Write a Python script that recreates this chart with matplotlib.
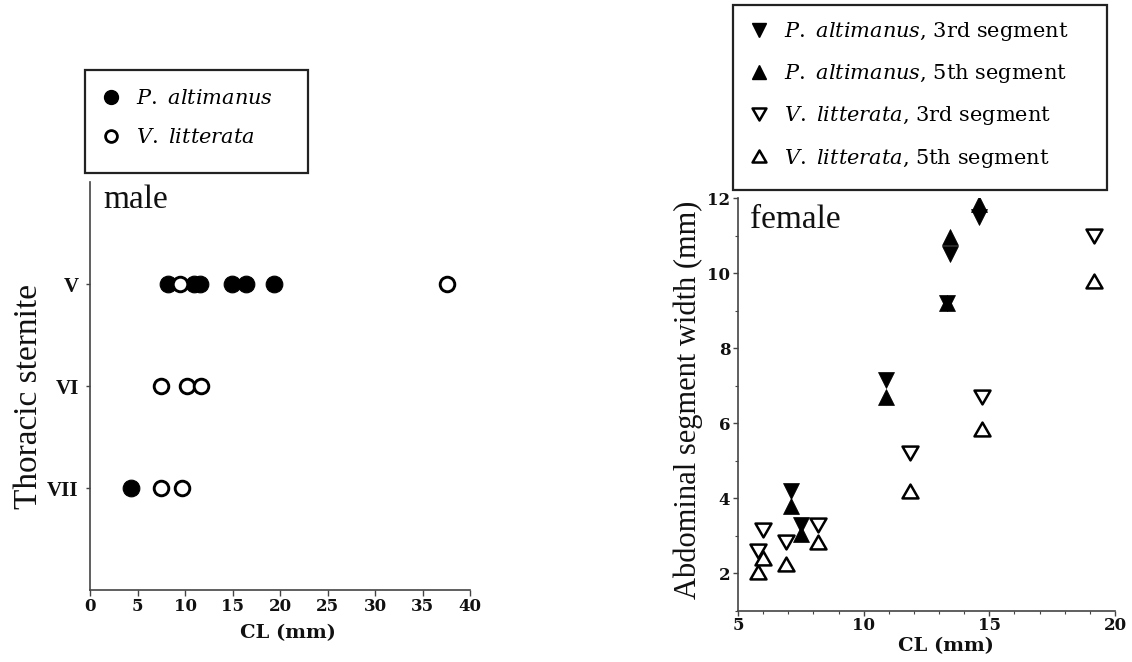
import matplotlib
matplotlib.use('Agg')
import matplotlib.pyplot as plt
from matplotlib.lines import Line2D
from matplotlib.patches import Rectangle
from matplotlib.ticker import MultipleLocator
from matplotlib.path import Path

plt.rcParams['mathtext.fontset'] = 'custom'
plt.rcParams['mathtext.it'] = 'DejaVu Serif:italic'
plt.rcParams['mathtext.rm'] = 'DejaVu Serif'

# ---------------- data ----------------
sternites = ['VII', 'VI', 'V']

male_pa_sternite = ['V', 'V', 'V', 'V', 'V', 'V', 'VII']
male_pa_cl = [8.2, 10.9, 11.6, 14.9, 16.4, 19.4, 4.3]
male_vl_sternite = ['V', 'V', 'VI', 'VI', 'VI', 'VII', 'VII']
male_vl_cl = [9.5, 37.6, 7.5, 10.2, 11.7, 7.5, 9.7]

female_pa_cl = [7.1, 7.5, 10.9, 13.3, 13.45, 14.6]
female_pa_3rd = [4.2, 3.3, 7.15, 9.2, 10.5, 11.5]
female_pa_5th = [3.8, 3.05, 6.7, 9.2, 10.95, 11.85]

female_vl_cl = [5.8, 6.0, 6.9, 8.2, 11.85, 14.7, 19.15]
female_vl_3rd = [2.6, 3.15, 2.85, 3.3, 5.2, 6.7, 11.0]
female_vl_5th = [2.05, 2.4, 2.25, 2.85, 4.2, 5.85, 9.8]

W, H = 1132, 662
fig = plt.figure(figsize=(W / 100, H / 100), dpi=100)

SERIF_NUM = 'DejaVu Serif'
TIMES = 'Liberation Serif'
spine_col = '#444444'
txt_col = '#111111'

# ---------------- left panel (male) ----------------
ax1 = fig.add_axes([90 / W, (H - 590) / H, 380 / W, 408 / H])
pos = {s: i + 1 for i, s in enumerate(sternites)}
ax1.plot(male_pa_cl, [pos[s] for s in male_pa_sternite], 'o', ls='none',
         ms=12, mfc='black', mec='black', mew=0.8, zorder=3)
ax1.plot(male_vl_cl, [pos[s] for s in male_vl_sternite], 'o', ls='none',
         ms=10.5, mfc='white', mec='black', mew=2.1, zorder=4)
ax1.set_xlim(0, 40)
ax1.set_ylim(0, 4)
ax1.set_xticks(range(0, 41, 5))
ax1.set_yticks([pos[s] for s in sternites])
ax1.set_yticklabels(sternites)
for sp in ['top', 'right']:
    ax1.spines[sp].set_visible(False)
for sp in ['left', 'bottom']:
    ax1.spines[sp].set_color(spine_col)
    ax1.spines[sp].set_linewidth(1.2)
ax1.tick_params(axis='x', direction='out', length=4, width=1, colors=spine_col, pad=2)
ax1.tick_params(axis='y', direction='out', length=3, width=1, colors=spine_col, pad=5)
for t in ax1.get_xticklabels():
    t.set_fontfamily(SERIF_NUM); t.set_fontweight('bold'); t.set_fontsize(12); t.set_color(txt_col)
for t in ax1.get_yticklabels():
    t.set_fontfamily(TIMES); t.set_fontweight('bold'); t.set_fontsize(15); t.set_color(txt_col)
ax1.set_xlabel('CL (mm)', fontfamily=SERIF_NUM, fontweight='bold', fontsize=14, color=txt_col)
ax1.xaxis.set_label_coords(0.52, -0.083)
ax1.xaxis.label.set_va('top')
ax1.set_ylabel('Thoracic sternite', fontfamily=TIMES, fontsize=24, color=txt_col)
ax1.yaxis.set_label_coords(-0.121, 0.475)
ax1.text(0.034, 0.995, 'male', transform=ax1.transAxes, ha='left', va='top',
         fontfamily=TIMES, fontsize=24, color=txt_col)

# ---------------- right panel (female) ----------------
ax2 = fig.add_axes([738 / W, (H - 611) / H, 377 / W, 413 / H])
tri_up = Path([(0, 0.866), (-1, -0.866), (1, -0.866), (0, 0.866)], closed=True)
tri_dn = Path([(0, -0.866), (-1, 0.866), (1, 0.866), (0, -0.866)], closed=True)
ax2.plot(female_pa_cl, female_pa_3rd, 'v', ls='none', ms=12,
         mfc='black', mec='black', mew=0.5, zorder=3)
ax2.plot(female_pa_cl, female_pa_5th, '^', ls='none', ms=12,
         mfc='black', mec='black', mew=0.5, zorder=3)
ax2.plot(female_vl_cl, female_vl_3rd, marker=tri_dn, ls='none', ms=11.5,
         mfc='white', mec='black', mew=1.8, zorder=4)
ax2.plot(female_vl_cl, female_vl_5th, marker=tri_up, ls='none', ms=11.5,
         mfc='white', mec='black', mew=1.8, zorder=4)
ax2.set_xlim(5, 20)
ax2.set_ylim(1, 12)
ax2.xaxis.set_major_locator(MultipleLocator(5))
ax2.xaxis.set_minor_locator(MultipleLocator(1))
ax2.yaxis.set_minor_locator(MultipleLocator(1))
ax2.set_yticks(range(2, 13, 2))
for sp in ['top', 'right']:
    ax2.spines[sp].set_visible(False)
for sp in ['left', 'bottom']:
    ax2.spines[sp].set_color(spine_col)
    ax2.spines[sp].set_linewidth(1.2)
ax2.tick_params(axis='both', which='major', direction='out', length=3.5, width=1, colors=spine_col)
ax2.tick_params(axis='both', which='minor', direction='out', length=2.5, width=0.8, colors=spine_col)
ax2.tick_params(axis='x', which='major', pad=1)
ax2.tick_params(axis='y', which='major', pad=2)
for t in ax2.get_xticklabels() + ax2.get_yticklabels():
    t.set_fontfamily(SERIF_NUM); t.set_fontweight('bold'); t.set_fontsize(12); t.set_color(txt_col)
ax2.set_xlabel('CL (mm)', fontfamily=SERIF_NUM, fontweight='bold', fontsize=14, color=txt_col)
ax2.xaxis.set_label_coords(0.552, -0.064)
ax2.xaxis.label.set_va('top')
ax2.set_ylabel('Abdominal segment width (mm)', fontfamily=TIMES, fontsize=22, color=txt_col)
ax2.yaxis.set_label_coords(-0.093, 0.511)
ax2.text(0.032, 0.985, 'female', transform=ax2.transAxes, ha='left', va='top',
         fontfamily=TIMES, fontsize=24, color=txt_col)

# ---------------- legends ----------------
fig.add_artist(Rectangle((85 / W, (H - 173) / H), 223 / W, 103 / H, transform=fig.transFigure,
                         fill=False, edgecolor='#222222', lw=1.6))
fig.add_artist(Rectangle((733 / W, (H - 190) / H), 374 / W, 185 / H, transform=fig.transFigure,
                         fill=False, edgecolor='#222222', lw=1.6))

leg_prop = {'family': SERIF_NUM, 'size': 15}
h_left = [Line2D([], [], ls='none', marker='o', ms=10, mfc='black', mec='black'),
          Line2D([], [], ls='none', marker='o', ms=8.5, mfc='white', mec='black', mew=2)]
l_left = [r'$\it{P.}$ $\it{altimanus}$', r'$\it{V.}$ $\it{litterata}$']
fig.legend(h_left, l_left, loc='upper left', bbox_to_anchor=(101 / W, 1 - 89 / H),
           frameon=False, prop=leg_prop, handlelength=1.0, handletextpad=0.7,
           labelspacing=0.98, borderpad=0, borderaxespad=0)

h_right = [Line2D([], [], ls='none', marker='v', ms=10, mfc='black', mec='black'),
           Line2D([], [], ls='none', marker='^', ms=10, mfc='black', mec='black'),
           Line2D([], [], ls='none', marker=tri_dn, ms=10, mfc='white', mec='black', mew=1.8),
           Line2D([], [], ls='none', marker=tri_up, ms=10, mfc='white', mec='black', mew=1.8)]
l_right = [r'$\it{P.}$ $\it{altimanus}$, 3rd segment', r'$\it{P.}$ $\it{altimanus}$, 5th segment',
           r'$\it{V.}$ $\it{litterata}$, 3rd segment', r'$\it{V.}$ $\it{litterata}$, 5th segment']
fig.legend(h_right, l_right, loc='upper left', bbox_to_anchor=(749 / W, 1 - 20 / H),
           frameon=False, prop=leg_prop, handlelength=1.0, handletextpad=0.7,
           labelspacing=0.92, borderpad=0, borderaxespad=0)

fig.savefig('out.png', dpi=100)
